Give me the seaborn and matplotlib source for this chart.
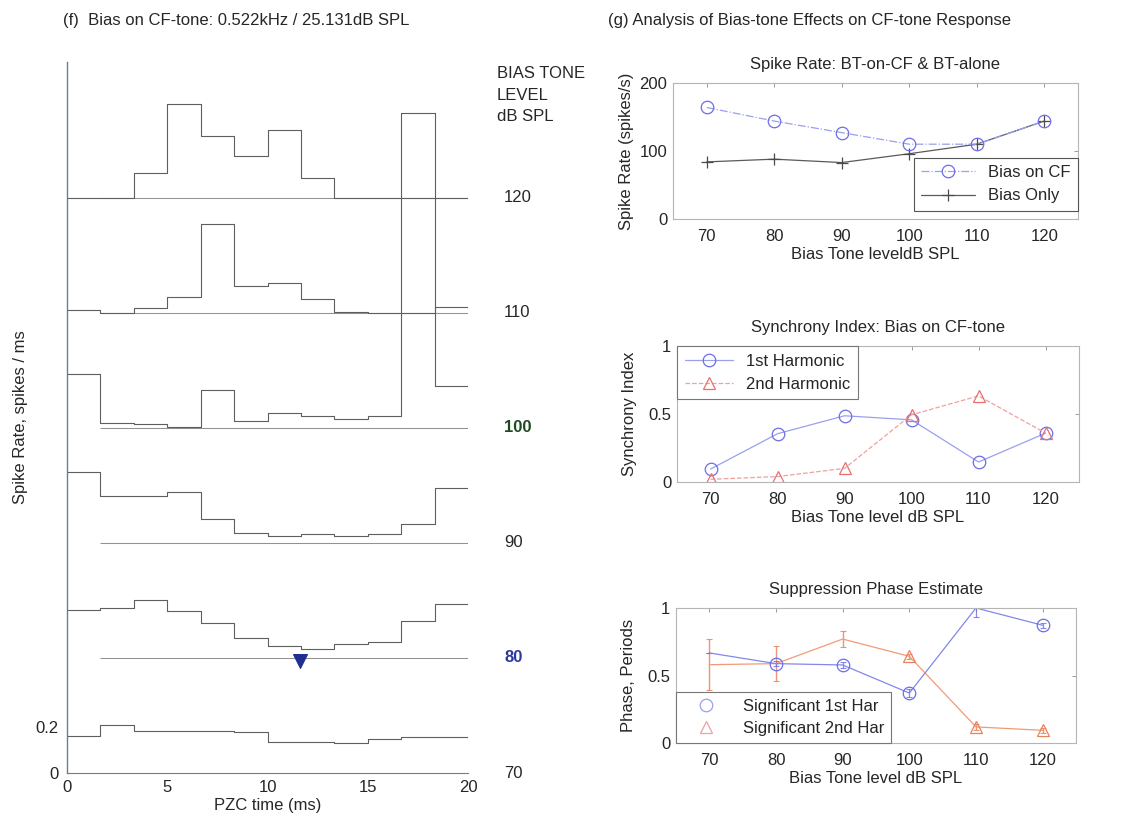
import numpy as np
import pandas as pd
import matplotlib
matplotlib.use("Agg")
import matplotlib.pyplot as plt
import matplotlib.transforms as mtransforms
from matplotlib.lines import Line2D
import seaborn as sns

sns.set_theme(style="white")
plt.rcParams['font.family'] = ['Liberation Sans', 'DejaVu Sans']

# ---------------- data ----------------
bias_levels = [70, 80, 90, 100, 110, 120]
level_labels = ["70", "80", "90", "100", "110", "120"]
n_bins = 12
pzc_max_ms = 20

# PZC histograms (spikes/ms), 12 bins over 0-20 ms
hist_70 = [0.160, 0.208, 0.183, 0.183, 0.183, 0.177, 0.136, 0.136, 0.130, 0.147, 0.157, 0.157]
hist_80 = [0.207, 0.218, 0.250, 0.203, 0.150, 0.086, 0.050, 0.040, 0.060, 0.071, 0.160, 0.233]
hist_90 = [0.310, 0.206, 0.206, 0.222, 0.104, 0.043, 0.032, 0.040, 0.029, 0.040, 0.080, 0.237]
hist_100 = [0.233, 0.019, 0.015, 0.004, 0.164, 0.029, 0.065, 0.052, 0.038, 0.052, 1.370, 0.181]
hist_110 = [0.012, 0.000, 0.019, 0.067, 0.388, 0.116, 0.130, 0.062, 0.004, 0.000, 0.000, 0.025]
hist_120 = [0.000, 0.000, 0.107, 0.409, 0.268, 0.181, 0.296, 0.086, 0.000, 0.000, 0.000, 0.000]
histograms = [hist_70, hist_80, hist_90, hist_100, hist_110, hist_120]
stack_step = 0.5            # vertical offset between stacked histograms
suppression_time_ms = 11.6  # marker on the 80 dB trace

# Spike rate panel
bias_on_cf_rate = [164, 144, 127, 110, 110, 144]
bias_only_rate = [84, 88, 83, 96, 110, 144]

# Synchrony index panel
si_1st = [0.095, 0.355, 0.487, 0.457, 0.147, 0.359]
si_2nd = [0.020, 0.040, 0.100, 0.494, 0.633, 0.360]

# Suppression phase panel
phase_1st = [0.667, 0.588, 0.578, 0.370, 1.000, 0.872]
phase_1st_err = [0.0, 0.02, 0.02, 0.03, 0.07, 0.02]
sig_1st = [False, True, True, True, False, True]
phase_2nd = [0.580, 0.588, 0.770, 0.642, 0.119, 0.094]
phase_2nd_err = [0.19, 0.13, 0.06, 0.02, 0.02, 0.02]
sig_2nd = [False, False, False, True, True, True]

# ---------------- figure ----------------
W, H = 1122, 822
fig = plt.figure(figsize=(W / 100, H / 100), dpi=100)
fig.patch.set_facecolor("white")


def px_axes(left, top, right, bottom):
    return fig.add_axes([left / W, 1 - bottom / H, (right - left) / W, (bottom - top) / H])


FS = 12
DARK = "#262626"

# ---------- left panel ----------
axL = px_axes(67, 62, 468, 773)
edges = np.linspace(0, pzc_max_ms, n_bins + 1)
bin_w = edges[1] - edges[0]
for i, (lvl, h) in enumerate(zip(bias_levels, histograms)):
    off = i * stack_step
    yv = np.append(np.asarray(h), h[-1]) + off
    sns.lineplot(x=edges, y=yv, drawstyle="steps-post", color="#5e5e5e", lw=0.8,
                 estimator=None, sort=False, ax=axL, legend=False)
    if i > 0:
        axL.hlines(off, bin_w, pzc_max_ms, color="#929292", lw=0.75, zorder=1)

sns.scatterplot(x=[suppression_time_ms], y=[1 * stack_step - 0.012], marker="v", s=100,
                color="#1f2f8f", edgecolor="#1f2f8f", ax=axL, legend=False, zorder=5)

axL.set_xlim(0, pzc_max_ms)
axL.set_ylim(0, 3.09)
axL.set_xticks([0, 5, 10, 15, 20])
axL.set_yticks([0, 0.2])
axL.set_yticklabels(["0", "0.2"])
for s in ["top", "right"]:
    axL.spines[s].set_visible(False)
axL.spines["left"].set_color("#6b7b98")
axL.spines["left"].set_linewidth(1.0)
axL.spines["bottom"].set_color("#7a7a7a")
axL.spines["bottom"].set_linewidth(0.8)
axL.tick_params(axis="x", direction="in", length=4, width=0.8, color="#555555",
                labelsize=FS, labelcolor=DARK, pad=5)
axL.tick_params(axis="y", direction="in", length=0, labelsize=FS, labelcolor=DARK, pad=6)
axL.set_xlabel("PZC time (ms)", fontsize=FS, color=DARK, labelpad=2)
axL.set_ylabel("Spike Rate, spikes / ms", fontsize=FS, color=DARK)
axL.yaxis.set_label_coords(-0.097, 0.5)

# level labels on the right
trans = mtransforms.blended_transform_factory(axL.transAxes, axL.transData)
label_styles = {"100": dict(color="#1f4a1f", fontweight="bold"),
                "80": dict(color="#2a3a9c", fontweight="bold")}
for i, lab in enumerate(level_labels):
    st = label_styles.get(lab, dict(color=DARK))
    axL.text(1.09, i * stack_step, lab, transform=trans, ha="left", va="center",
             fontsize=FS, clip_on=False, **st)
fig.text(497 / W, 1 - 66 / H, "BIAS TONE\nLEVEL\ndB SPL", ha="left", va="top",
         fontsize=FS, color=DARK, linespacing=1.55)

fig.text(63 / W, 1 - 20 / H, "(f)  Bias on CF-tone: 0.522kHz / 25.131dB SPL",
         ha="left", va="center", fontsize=FS, color=DARK)
fig.text(608 / W, 1 - 20 / H, "(g) Analysis of Bias-tone Effects on CF-tone Response",
         ha="left", va="center", fontsize=FS, color=DARK)

# ---------- right panels ----------
def style_right(ax, ylim, yticks, yticklabels):
    ax.set_xlim(65, 125)
    ax.set_ylim(*ylim)
    ax.set_xticks(bias_levels)
    ax.set_yticks(yticks)
    ax.set_yticklabels(yticklabels)
    for s in ax.spines.values():
        s.set_color("#b5b5b5")
        s.set_linewidth(0.8)
    ax.tick_params(direction="in", length=3, width=0.7, color="#9a9a9a",
                   top=True, right=True, labelsize=FS, labelcolor=DARK)
    ax.tick_params(axis="x", pad=7)
    ax.tick_params(axis="y", pad=4)


BLUE = "#6d6de8"
BLUE_L = "#9aa0ee"
RED = "#e86f6f"
RED_L = "#f0a0a0"
ORANGE = "#e8825e"

# Panel 1: spike rate
ax1 = px_axes(673, 83, 1078, 219)
sns.lineplot(x=bias_levels, y=bias_only_rate, color="#5a5a5a", lw=0.9, marker="+",
             markersize=9, markeredgewidth=0.9, markeredgecolor="#4a4a4a", ax=ax1,
             legend=False, estimator=None)
sns.lineplot(x=bias_levels, y=bias_on_cf_rate, color=BLUE_L, lw=0.9, linestyle="-.",
             marker="o", markersize=9, markerfacecolor="none", markeredgecolor=BLUE,
             markeredgewidth=0.9, ax=ax1, legend=False, estimator=None)
style_right(ax1, (0, 200), [0, 100, 200], ["0", "100", "200"])
ax1.set_title("Spike Rate: BT-on-CF & BT-alone", fontsize=FS, color=DARK, pad=10)
ax1.set_xlabel("Bias Tone leveldB SPL", fontsize=FS, color=DARK, labelpad=2)
ax1.set_ylabel("Spike Rate (spikes/s)", fontsize=FS, color=DARK, labelpad=4)
h1 = [Line2D([], [], color=BLUE_L, ls="-.", lw=0.9, marker="o", ms=9, mfc="none",
             mec=BLUE, mew=0.9),
      Line2D([], [], color="#5a5a5a", lw=0.9, marker="+", ms=9, mec="#4a4a4a", mew=0.9)]
leg = ax1.legend(h1, ["Bias on CF", "Bias Only"], loc="lower right",
                 bbox_to_anchor=(1.0, 0.06), borderaxespad=0, fontsize=FS,
                 frameon=True, fancybox=False, edgecolor="#555555", framealpha=1,
                 handlelength=3.2, borderpad=0.45, labelspacing=0.5)
leg.get_frame().set_linewidth(0.8)
for t in leg.get_texts():
    t.set_color(DARK)

# Panel 2: synchrony index
ax2 = px_axes(677, 346, 1079, 482)
sns.lineplot(x=bias_levels, y=si_1st, color=BLUE_L, lw=0.9, marker="o", markersize=9,
             markerfacecolor="none", markeredgecolor=BLUE, markeredgewidth=0.9, ax=ax2,
             legend=False, estimator=None)
sns.lineplot(x=bias_levels, y=si_2nd, color=RED_L, lw=0.9, linestyle="--", marker="^",
             markersize=9, markerfacecolor="none", markeredgecolor=RED, markeredgewidth=0.9,
             ax=ax2, legend=False, estimator=None)
style_right(ax2, (0, 1), [0, 0.5, 1], ["0", "0.5", "1"])
ax2.set_title("Synchrony Index: Bias on CF-tone", fontsize=FS, color=DARK, pad=10)
ax2.set_xlabel("Bias Tone level dB SPL", fontsize=FS, color=DARK, labelpad=2)
ax2.set_ylabel("Synchrony Index", fontsize=FS, color=DARK, labelpad=8)
h2 = [Line2D([], [], color=BLUE_L, lw=0.9, marker="o", ms=9, mfc="none", mec=BLUE, mew=0.9),
      Line2D([], [], color=RED_L, lw=0.9, ls="--", marker="^", ms=9, mfc="none", mec=RED,
             mew=0.9)]
leg = ax2.legend(h2, ["1st Harmonic", "2nd Harmonic"], loc="upper left",
                 bbox_to_anchor=(0.0, 1.0), borderaxespad=0, fontsize=FS,
                 frameon=True, fancybox=False, edgecolor="#777777", framealpha=1,
                 handlelength=2.9, borderpad=0.45, labelspacing=0.5)
leg.get_frame().set_linewidth(0.8)
for t in leg.get_texts():
    t.set_color(DARK)

# Panel 3: suppression phase
ax3 = px_axes(676, 608, 1076, 743)
lv = np.asarray(bias_levels)
ax3.errorbar(lv, phase_2nd, yerr=phase_2nd_err, fmt="none", ecolor=ORANGE,
             elinewidth=1.0, capsize=2, capthick=0.8, alpha=0.85, zorder=2)
ax3.errorbar(lv, phase_1st, yerr=phase_1st_err, fmt="none", ecolor=BLUE,
             elinewidth=0.9, capsize=2, capthick=0.8, alpha=0.8, zorder=2)
sns.lineplot(x=bias_levels, y=phase_2nd, color="#f29a78", lw=0.9, ax=ax3, legend=False,
             estimator=None)
sns.lineplot(x=bias_levels, y=phase_1st, color="#8088ea", lw=0.9, ax=ax3, legend=False,
             estimator=None)
m1 = np.asarray(sig_1st)
m2 = np.asarray(sig_2nd)
sns.lineplot(x=lv[m1], y=np.asarray(phase_1st)[m1], linestyle="", marker="o", markersize=9,
             markerfacecolor="none", markeredgecolor=BLUE, markeredgewidth=0.9, ax=ax3,
             legend=False, estimator=None)
sns.lineplot(x=lv[m2], y=np.asarray(phase_2nd)[m2], linestyle="", marker="^", markersize=9,
             markerfacecolor="none", markeredgecolor=ORANGE, markeredgewidth=0.9, ax=ax3,
             legend=False, estimator=None)
style_right(ax3, (0, 1), [0, 0.5, 1], ["0", "0.5", "1"])
ax3.set_title("Suppression Phase Estimate", fontsize=FS, color=DARK, pad=10)
ax3.set_xlabel("Bias Tone level dB SPL", fontsize=FS, color=DARK, labelpad=2)
ax3.set_ylabel("Phase, Periods", fontsize=FS, color=DARK, labelpad=8)
h3 = [Line2D([], [], ls="", marker="o", ms=9, mfc="none", mec=BLUE_L, mew=0.9),
      Line2D([], [], ls="", marker="^", ms=9, mfc="none", mec=RED_L, mew=0.9)]
leg = ax3.legend(h3, ["Significant 1st Har", "Significant 2nd Har"], loc="lower left",
                 bbox_to_anchor=(0.0, 0.0), borderaxespad=0, fontsize=FS,
                 frameon=True, fancybox=False, edgecolor="#777777", framealpha=1,
                 handlelength=2.8, borderpad=0.4, labelspacing=0.45)
leg.get_frame().set_linewidth(0.8)
for t in leg.get_texts():
    t.set_color(DARK)

fig.savefig("out.png", dpi=100, facecolor="white")
